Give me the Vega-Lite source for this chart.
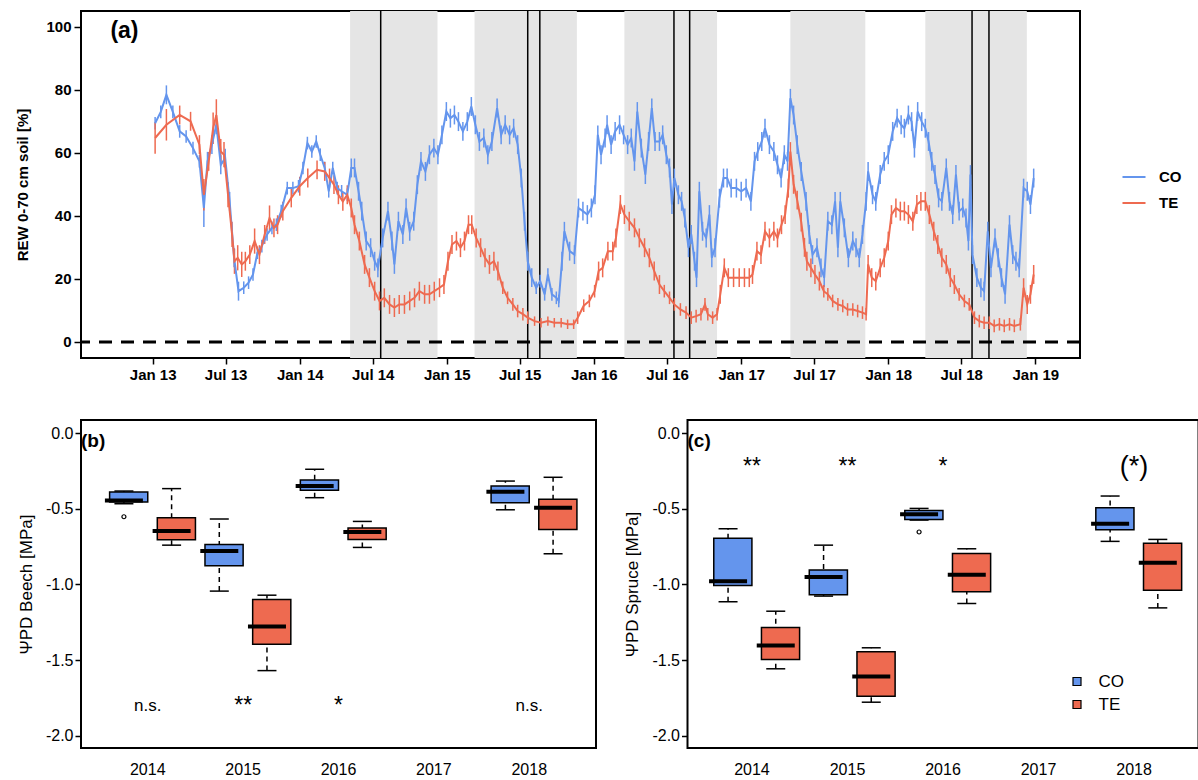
{
  "$schema": "https://vega.github.io/schema/vega-lite/v6.json",
  "background": "white",
  "padding": {"left": 14, "top": 9, "right": 0, "bottom": 0},
  "config": {
    "font": "Liberation Sans",
    "view": {"stroke": "black", "strokeWidth": 2},
    "axis": {"grid": false, "domain": false, "tickColor": "black", "tickWidth": 1.5, "labelColor": "black", "titleColor": "black"}
  },
  "datasets": {
    "seasons": [
      {"start": "2014-05-06", "end": "2014-12-09"},
      {"start": "2015-03-11", "end": "2015-11-20"},
      {"start": "2016-03-17", "end": "2016-11-02"},
      {"start": "2017-05-03", "end": "2017-11-05"},
      {"start": "2018-04-03", "end": "2018-12-11"}
    ],
    "campaigns": [
      {"d": "2014-07-21"}, {"d": "2015-07-21"}, {"d": "2015-08-20"}, {"d": "2016-07-18"},
      {"d": "2016-08-26"}, {"d": "2018-07-28"}, {"d": "2018-09-08"}
    ],
    "reference": [{"level": 0}],
    "rew": [
      {"d":"2013-01-07","s":"CO","v":69.4,"e":2},{"d":"2013-01-21","s":"CO","v":73,"e":2},{"d":"2013-02-04","s":"CO","v":78.4,"e":3},
      {"d":"2013-02-20","s":"CO","v":73,"e":2},{"d":"2013-03-09","s":"CO","v":66.8,"e":2},{"d":"2013-03-25","s":"CO","v":65.2,"e":2},
      {"d":"2013-04-11","s":"CO","v":61.5,"e":2},{"d":"2013-04-27","s":"CO","v":57.3,"e":2},{"d":"2013-05-08","s":"CO","v":42.5,"e":6},
      {"d":"2013-05-17","s":"CO","v":57.3,"e":3},{"d":"2013-05-28","s":"CO","v":62.6,"e":3},{"d":"2013-06-08","s":"CO","v":68.9,"e":3},
      {"d":"2013-06-19","s":"CO","v":56.2,"e":3},{"d":"2013-06-30","s":"CO","v":58.3,"e":3},{"d":"2013-07-11","s":"CO","v":44.6,"e":3},
      {"d":"2013-07-22","s":"CO","v":26.7,"e":3},{"d":"2013-08-02","s":"CO","v":16.1,"e":3},{"d":"2013-08-15","s":"CO","v":17.2,"e":2},
      {"d":"2013-08-27","s":"CO","v":18.8,"e":2},{"d":"2013-09-07","s":"CO","v":21.4,"e":2},{"d":"2013-09-18","s":"CO","v":28.3,"e":2},
      {"d":"2013-09-29","s":"CO","v":30.4,"e":2},{"d":"2013-10-12","s":"CO","v":34.1,"e":2},{"d":"2013-10-24","s":"CO","v":36.2,"e":2},
      {"d":"2013-11-04","s":"CO","v":37.2,"e":2},{"d":"2013-11-16","s":"CO","v":41.5,"e":2},{"d":"2013-12-01","s":"CO","v":48.8,"e":2},
      {"d":"2013-12-15","s":"CO","v":48.8,"e":2},{"d":"2013-12-29","s":"CO","v":49.4,"e":2},{"d":"2014-01-09","s":"CO","v":55.2,"e":2},
      {"d":"2014-01-20","s":"CO","v":63.1,"e":2},{"d":"2014-01-31","s":"CO","v":60.4,"e":2},{"d":"2014-02-11","s":"CO","v":63.6,"e":2},
      {"d":"2014-02-21","s":"CO","v":59.4,"e":2},{"d":"2014-03-04","s":"CO","v":55.2,"e":2},{"d":"2014-03-14","s":"CO","v":47.8,"e":2},
      {"d":"2014-03-24","s":"CO","v":55.2,"e":2},{"d":"2014-04-04","s":"CO","v":48.8,"e":2},{"d":"2014-04-15","s":"CO","v":47.8,"e":2},
      {"d":"2014-04-29","s":"CO","v":46.7,"e":2},{"d":"2014-05-09","s":"CO","v":55.2,"e":3},{"d":"2014-05-17","s":"CO","v":55.2,"e":3},
      {"d":"2014-05-27","s":"CO","v":47.8,"e":3},{"d":"2014-06-04","s":"CO","v":41.5,"e":3},{"d":"2014-06-15","s":"CO","v":32,"e":3},
      {"d":"2014-06-26","s":"CO","v":29.9,"e":3},{"d":"2014-07-06","s":"CO","v":25.6,"e":3},{"d":"2014-07-14","s":"CO","v":23.5,"e":3},
      {"d":"2014-07-26","s":"CO","v":33,"e":3},{"d":"2014-08-08","s":"CO","v":41.5,"e":3},{"d":"2014-08-18","s":"CO","v":32,"e":3},
      {"d":"2014-08-24","s":"CO","v":24.6,"e":3},{"d":"2014-09-03","s":"CO","v":38.3,"e":3},{"d":"2014-09-14","s":"CO","v":34.1,"e":3},
      {"d":"2014-09-22","s":"CO","v":42.5,"e":3},{"d":"2014-10-01","s":"CO","v":35.1,"e":3},{"d":"2014-10-11","s":"CO","v":38.3,"e":3},
      {"d":"2014-10-20","s":"CO","v":49.9,"e":3},{"d":"2014-10-29","s":"CO","v":57.3,"e":3},{"d":"2014-11-09","s":"CO","v":54.1,"e":3},
      {"d":"2014-11-19","s":"CO","v":59.4,"e":3},{"d":"2014-11-30","s":"CO","v":61.5,"e":3},{"d":"2014-12-10","s":"CO","v":59.4,"e":3},
      {"d":"2014-12-20","s":"CO","v":65.7,"e":3},{"d":"2014-12-31","s":"CO","v":73.1,"e":3},{"d":"2015-01-10","s":"CO","v":71,"e":3},
      {"d":"2015-01-20","s":"CO","v":72,"e":3},{"d":"2015-01-30","s":"CO","v":69.9,"e":3},{"d":"2015-02-10","s":"CO","v":66.8,"e":3},
      {"d":"2015-02-21","s":"CO","v":69.9,"e":3},{"d":"2015-03-03","s":"CO","v":74.7,"e":3},{"d":"2015-03-13","s":"CO","v":68.9,"e":3},
      {"d":"2015-03-23","s":"CO","v":63.6,"e":3},{"d":"2015-04-03","s":"CO","v":64.7,"e":3},{"d":"2015-04-13","s":"CO","v":59.4,"e":3},
      {"d":"2015-04-23","s":"CO","v":63.6,"e":3},{"d":"2015-05-06","s":"CO","v":74.2,"e":3},{"d":"2015-05-16","s":"CO","v":65.7,"e":3},
      {"d":"2015-05-26","s":"CO","v":68.9,"e":3},{"d":"2015-06-06","s":"CO","v":65.7,"e":3},{"d":"2015-06-16","s":"CO","v":67.8,"e":3},
      {"d":"2015-06-26","s":"CO","v":62.6,"e":3},{"d":"2015-07-05","s":"CO","v":52,"e":3},{"d":"2015-07-13","s":"CO","v":38.3,"e":3},
      {"d":"2015-07-21","s":"CO","v":25.6,"e":3},{"d":"2015-07-31","s":"CO","v":20.4,"e":3},{"d":"2015-08-11","s":"CO","v":17.2,"e":2},
      {"d":"2015-08-21","s":"CO","v":19.3,"e":2},{"d":"2015-09-01","s":"CO","v":15.1,"e":2},{"d":"2015-09-09","s":"CO","v":21.4,"e":2},
      {"d":"2015-09-19","s":"CO","v":15.1,"e":2},{"d":"2015-09-30","s":"CO","v":14,"e":2},{"d":"2015-10-06","s":"CO","v":13,"e":2},
      {"d":"2015-10-14","s":"CO","v":25.6,"e":3},{"d":"2015-10-20","s":"CO","v":35.1,"e":3},{"d":"2015-11-02","s":"CO","v":28.8,"e":3},
      {"d":"2015-11-14","s":"CO","v":27.7,"e":3},{"d":"2015-11-24","s":"CO","v":42.5,"e":3},{"d":"2015-12-05","s":"CO","v":41.5,"e":3},
      {"d":"2015-12-16","s":"CO","v":40.4,"e":3},{"d":"2015-12-26","s":"CO","v":42.5,"e":3},{"d":"2016-01-04","s":"CO","v":46.7,"e":3},
      {"d":"2016-01-11","s":"CO","v":65.7,"e":3},{"d":"2016-01-19","s":"CO","v":59.4,"e":3},{"d":"2016-01-29","s":"CO","v":64.7,"e":3},
      {"d":"2016-02-03","s":"CO","v":68.9,"e":3},{"d":"2016-02-13","s":"CO","v":62.6,"e":3},{"d":"2016-02-23","s":"CO","v":66.8,"e":3},
      {"d":"2016-03-05","s":"CO","v":68.9,"e":3},{"d":"2016-03-15","s":"CO","v":65.7,"e":3},{"d":"2016-03-25","s":"CO","v":62.6,"e":3},
      {"d":"2016-04-03","s":"CO","v":64.7,"e":3},{"d":"2016-04-11","s":"CO","v":57.3,"e":3},{"d":"2016-04-18","s":"CO","v":73.1,"e":3},
      {"d":"2016-04-28","s":"CO","v":61.5,"e":3},{"d":"2016-05-08","s":"CO","v":53.1,"e":3},{"d":"2016-05-16","s":"CO","v":63.6,"e":3},
      {"d":"2016-05-24","s":"CO","v":74.2,"e":3},{"d":"2016-06-01","s":"CO","v":63.6,"e":3},{"d":"2016-06-12","s":"CO","v":63.6,"e":3},
      {"d":"2016-06-20","s":"CO","v":65.7,"e":3},{"d":"2016-06-29","s":"CO","v":59.4,"e":3},{"d":"2016-07-07","s":"CO","v":55.2,"e":3},
      {"d":"2016-07-13","s":"CO","v":43.6,"e":3},{"d":"2016-07-19","s":"CO","v":52,"e":3},{"d":"2016-07-29","s":"CO","v":46.7,"e":3},
      {"d":"2016-08-06","s":"CO","v":44.6,"e":3},{"d":"2016-08-14","s":"CO","v":39.3,"e":3},{"d":"2016-08-23","s":"CO","v":29.9,"e":3},
      {"d":"2016-08-30","s":"CO","v":34.1,"e":3},{"d":"2016-09-07","s":"CO","v":25.6,"e":3},{"d":"2016-09-12","s":"CO","v":20.4,"e":3},
      {"d":"2016-09-19","s":"CO","v":47.8,"e":3},{"d":"2016-09-27","s":"CO","v":35.1,"e":3},{"d":"2016-10-06","s":"CO","v":33,"e":3},
      {"d":"2016-10-14","s":"CO","v":40.4,"e":3},{"d":"2016-10-20","s":"CO","v":26.7,"e":3},{"d":"2016-10-28","s":"CO","v":29.9,"e":3},
      {"d":"2016-11-08","s":"CO","v":45.6,"e":3},{"d":"2016-11-18","s":"CO","v":52,"e":3},{"d":"2016-11-27","s":"CO","v":52,"e":3},
      {"d":"2016-12-07","s":"CO","v":48.8,"e":3},{"d":"2016-12-20","s":"CO","v":48.8,"e":3},{"d":"2017-01-01","s":"CO","v":47.8,"e":3},
      {"d":"2017-01-13","s":"CO","v":48.8,"e":3},{"d":"2017-01-25","s":"CO","v":44.6,"e":3},{"d":"2017-02-03","s":"CO","v":57.3,"e":3},
      {"d":"2017-02-11","s":"CO","v":60.4,"e":3},{"d":"2017-02-21","s":"CO","v":63.6,"e":3},{"d":"2017-03-01","s":"CO","v":67.8,"e":3},
      {"d":"2017-03-12","s":"CO","v":62.6,"e":3},{"d":"2017-03-23","s":"CO","v":60.4,"e":3},{"d":"2017-04-01","s":"CO","v":56.2,"e":3},
      {"d":"2017-04-10","s":"CO","v":52,"e":3},{"d":"2017-04-18","s":"CO","v":59.4,"e":3},{"d":"2017-04-26","s":"CO","v":57.3,"e":3},
      {"d":"2017-05-03","s":"CO","v":77.3,"e":3},{"d":"2017-05-11","s":"CO","v":72,"e":3},{"d":"2017-05-20","s":"CO","v":62.6,"e":3},
      {"d":"2017-05-30","s":"CO","v":54.1,"e":3},{"d":"2017-06-11","s":"CO","v":44.6,"e":3},{"d":"2017-06-19","s":"CO","v":34.1,"e":3},
      {"d":"2017-06-27","s":"CO","v":27.7,"e":3},{"d":"2017-07-08","s":"CO","v":29.9,"e":3},{"d":"2017-07-18","s":"CO","v":23.5,"e":3},
      {"d":"2017-07-26","s":"CO","v":20.4,"e":3},{"d":"2017-08-04","s":"CO","v":38.3,"e":3},{"d":"2017-08-14","s":"CO","v":37.2,"e":3},
      {"d":"2017-08-22","s":"CO","v":44.6,"e":3},{"d":"2017-08-29","s":"CO","v":29.9,"e":3},{"d":"2017-09-04","s":"CO","v":44.6,"e":3},
      {"d":"2017-09-14","s":"CO","v":36.2,"e":3},{"d":"2017-09-24","s":"CO","v":26.7,"e":3},{"d":"2017-10-05","s":"CO","v":32,"e":3},
      {"d":"2017-10-13","s":"CO","v":29.9,"e":3},{"d":"2017-10-21","s":"CO","v":26.7,"e":3},{"d":"2017-10-29","s":"CO","v":34.1,"e":3},
      {"d":"2017-11-07","s":"CO","v":44.6,"e":3},{"d":"2017-11-12","s":"CO","v":54.1,"e":3},{"d":"2017-11-23","s":"CO","v":46.7,"e":3},
      {"d":"2017-12-01","s":"CO","v":44.6,"e":3},{"d":"2017-12-12","s":"CO","v":53.1,"e":3},{"d":"2017-12-22","s":"CO","v":57.3,"e":3},
      {"d":"2018-01-01","s":"CO","v":59.4,"e":3},{"d":"2018-01-12","s":"CO","v":66.8,"e":3},{"d":"2018-01-23","s":"CO","v":71,"e":3},
      {"d":"2018-02-02","s":"CO","v":68.9,"e":3},{"d":"2018-02-10","s":"CO","v":67.8,"e":3},{"d":"2018-02-20","s":"CO","v":72,"e":3},
      {"d":"2018-02-28","s":"CO","v":69.9,"e":3},{"d":"2018-03-07","s":"CO","v":61.5,"e":3},{"d":"2018-03-15","s":"CO","v":73.1,"e":3},
      {"d":"2018-03-25","s":"CO","v":69.9,"e":3},{"d":"2018-04-03","s":"CO","v":67.8,"e":3},{"d":"2018-04-11","s":"CO","v":63.6,"e":3},
      {"d":"2018-04-19","s":"CO","v":57.3,"e":3},{"d":"2018-04-27","s":"CO","v":53.1,"e":3},{"d":"2018-05-06","s":"CO","v":45.7,"e":3},
      {"d":"2018-05-14","s":"CO","v":44.6,"e":3},{"d":"2018-05-25","s":"CO","v":55.2,"e":3},{"d":"2018-06-02","s":"CO","v":44.6,"e":3},
      {"d":"2018-06-10","s":"CO","v":40.4,"e":3},{"d":"2018-06-18","s":"CO","v":53.1,"e":3},{"d":"2018-06-26","s":"CO","v":41.5,"e":3},
      {"d":"2018-07-05","s":"CO","v":42.5,"e":3},{"d":"2018-07-13","s":"CO","v":39.3,"e":3},{"d":"2018-07-19","s":"CO","v":32,"e":3},
      {"d":"2018-07-24","s":"CO","v":53.1,"e":3},{"d":"2018-07-29","s":"CO","v":27.7,"e":3},{"d":"2018-08-09","s":"CO","v":20.4,"e":3},
      {"d":"2018-08-19","s":"CO","v":17.2,"e":3},{"d":"2018-08-27","s":"CO","v":16.1,"e":3},{"d":"2018-09-05","s":"CO","v":35.1,"e":3},
      {"d":"2018-09-13","s":"CO","v":23.5,"e":3},{"d":"2018-09-23","s":"CO","v":33,"e":3},{"d":"2018-10-01","s":"CO","v":26.7,"e":3},
      {"d":"2018-10-09","s":"CO","v":20.4,"e":3},{"d":"2018-10-18","s":"CO","v":15.1,"e":3},{"d":"2018-10-29","s":"CO","v":37.2,"e":3},
      {"d":"2018-11-06","s":"CO","v":27.7,"e":3},{"d":"2018-11-14","s":"CO","v":25.6,"e":3},{"d":"2018-11-22","s":"CO","v":23.5,"e":3},
      {"d":"2018-12-03","s":"CO","v":48.8,"e":3},{"d":"2018-12-12","s":"CO","v":47.8,"e":3},{"d":"2018-12-20","s":"CO","v":43.6,"e":3},
      {"d":"2018-12-28","s":"CO","v":52,"e":3},

      {"d":"2013-01-07","s":"TE","v":64.7,"e":5},{"d":"2013-02-04","s":"TE","v":68.9,"e":5},{"d":"2013-03-09","s":"TE","v":72,"e":3},
      {"d":"2013-04-05","s":"TE","v":70,"e":3},{"d":"2013-04-27","s":"TE","v":62.6,"e":3},{"d":"2013-05-08","s":"TE","v":46.7,"e":5},
      {"d":"2013-05-20","s":"TE","v":57.3,"e":3},{"d":"2013-05-31","s":"TE","v":67.8,"e":5},{"d":"2013-06-08","s":"TE","v":72,"e":5},
      {"d":"2013-06-19","s":"TE","v":60.4,"e":4},{"d":"2013-06-27","s":"TE","v":59.4,"e":4},{"d":"2013-07-07","s":"TE","v":46.7,"e":4},
      {"d":"2013-07-17","s":"TE","v":34.1,"e":4},{"d":"2013-07-23","s":"TE","v":25.6,"e":4},{"d":"2013-07-31","s":"TE","v":26.7,"e":4},
      {"d":"2013-08-10","s":"TE","v":24.6,"e":4},{"d":"2013-08-19","s":"TE","v":25.6,"e":3},{"d":"2013-08-30","s":"TE","v":27.7,"e":3},
      {"d":"2013-09-11","s":"TE","v":32,"e":4},{"d":"2013-09-23","s":"TE","v":27.7,"e":3},{"d":"2013-10-06","s":"TE","v":34.1,"e":3},
      {"d":"2013-10-18","s":"TE","v":39.3,"e":4},{"d":"2013-10-29","s":"TE","v":36.2,"e":3},{"d":"2013-11-07","s":"TE","v":37.2,"e":3},
      {"d":"2013-11-20","s":"TE","v":41.5,"e":3},{"d":"2013-12-11","s":"TE","v":45.7,"e":3},{"d":"2014-01-01","s":"TE","v":49.4,"e":3},
      {"d":"2014-01-21","s":"TE","v":52,"e":3},{"d":"2014-02-13","s":"TE","v":54.6,"e":3},{"d":"2014-03-04","s":"TE","v":54.1,"e":3},
      {"d":"2014-03-16","s":"TE","v":52,"e":3},{"d":"2014-03-27","s":"TE","v":49.9,"e":3},{"d":"2014-04-07","s":"TE","v":46.7,"e":3},
      {"d":"2014-04-18","s":"TE","v":44.6,"e":3},{"d":"2014-04-29","s":"TE","v":46.7,"e":3},{"d":"2014-05-09","s":"TE","v":42.5,"e":3},
      {"d":"2014-05-17","s":"TE","v":37.2,"e":3},{"d":"2014-05-29","s":"TE","v":32,"e":3},{"d":"2014-06-11","s":"TE","v":24.6,"e":3},
      {"d":"2014-06-23","s":"TE","v":20.4,"e":3},{"d":"2014-07-06","s":"TE","v":16.1,"e":3},{"d":"2014-07-18","s":"TE","v":13,"e":3},
      {"d":"2014-07-30","s":"TE","v":14,"e":3},{"d":"2014-08-12","s":"TE","v":11.9,"e":3},{"d":"2014-08-24","s":"TE","v":10.9,"e":3},
      {"d":"2014-09-05","s":"TE","v":11.9,"e":3},{"d":"2014-09-18","s":"TE","v":11.9,"e":3},{"d":"2014-10-01","s":"TE","v":13,"e":3},
      {"d":"2014-10-13","s":"TE","v":14,"e":3},{"d":"2014-10-25","s":"TE","v":16.1,"e":3},{"d":"2014-11-07","s":"TE","v":15.1,"e":3},
      {"d":"2014-11-19","s":"TE","v":15.1,"e":3},{"d":"2014-12-01","s":"TE","v":16.1,"e":3},{"d":"2014-12-14","s":"TE","v":17.2,"e":3},
      {"d":"2014-12-25","s":"TE","v":18.2,"e":3},{"d":"2015-01-04","s":"TE","v":25.6,"e":3},{"d":"2015-01-14","s":"TE","v":30.9,"e":3},
      {"d":"2015-01-25","s":"TE","v":32,"e":3},{"d":"2015-02-04","s":"TE","v":29.9,"e":3},{"d":"2015-02-14","s":"TE","v":32,"e":3},
      {"d":"2015-02-24","s":"TE","v":37.2,"e":3},{"d":"2015-03-04","s":"TE","v":37.2,"e":3},{"d":"2015-03-15","s":"TE","v":33,"e":3},
      {"d":"2015-03-26","s":"TE","v":29.9,"e":3},{"d":"2015-04-06","s":"TE","v":26.7,"e":3},{"d":"2015-04-17","s":"TE","v":24.6,"e":3},
      {"d":"2015-04-28","s":"TE","v":25.6,"e":3},{"d":"2015-05-08","s":"TE","v":22.5,"e":3},{"d":"2015-05-20","s":"TE","v":17.2,"e":2},
      {"d":"2015-06-01","s":"TE","v":14,"e":2},{"d":"2015-06-14","s":"TE","v":11.9,"e":2},{"d":"2015-06-26","s":"TE","v":9.8,"e":2},
      {"d":"2015-07-09","s":"TE","v":8.8,"e":2},{"d":"2015-07-21","s":"TE","v":7.7,"e":2},{"d":"2015-08-07","s":"TE","v":6.6,"e":1.5},
      {"d":"2015-08-23","s":"TE","v":6.1,"e":1.5},{"d":"2015-09-09","s":"TE","v":6.6,"e":1.5},{"d":"2015-09-25","s":"TE","v":6.1,"e":1.5},
      {"d":"2015-10-12","s":"TE","v":6.1,"e":1.5},{"d":"2015-10-28","s":"TE","v":5.6,"e":1.5},{"d":"2015-11-12","s":"TE","v":5.6,"e":1.5},
      {"d":"2015-11-22","s":"TE","v":7.7,"e":2},{"d":"2015-12-07","s":"TE","v":11.5,"e":2},{"d":"2015-12-21","s":"TE","v":13,"e":2},
      {"d":"2016-01-03","s":"TE","v":16.1,"e":2},{"d":"2016-01-13","s":"TE","v":22.5,"e":3},{"d":"2016-01-23","s":"TE","v":23.5,"e":3},
      {"d":"2016-02-05","s":"TE","v":28.8,"e":3},{"d":"2016-02-17","s":"TE","v":28.8,"e":3},{"d":"2016-02-25","s":"TE","v":33,"e":3},
      {"d":"2016-03-07","s":"TE","v":43.6,"e":3},{"d":"2016-03-17","s":"TE","v":40.4,"e":3},{"d":"2016-03-29","s":"TE","v":38.3,"e":3},
      {"d":"2016-04-11","s":"TE","v":36.2,"e":3},{"d":"2016-04-23","s":"TE","v":33,"e":3},{"d":"2016-05-06","s":"TE","v":29.9,"e":3},
      {"d":"2016-05-18","s":"TE","v":26.7,"e":3},{"d":"2016-05-30","s":"TE","v":22.5,"e":3},{"d":"2016-06-12","s":"TE","v":18.2,"e":3},
      {"d":"2016-06-24","s":"TE","v":16.1,"e":2},{"d":"2016-07-07","s":"TE","v":14,"e":2},{"d":"2016-07-19","s":"TE","v":11.9,"e":2},
      {"d":"2016-08-03","s":"TE","v":10.3,"e":2},{"d":"2016-08-17","s":"TE","v":9.3,"e":2},{"d":"2016-08-30","s":"TE","v":7.7,"e":2},
      {"d":"2016-09-11","s":"TE","v":8.2,"e":2},{"d":"2016-09-23","s":"TE","v":8.8,"e":2},{"d":"2016-10-03","s":"TE","v":11.9,"e":2},
      {"d":"2016-10-10","s":"TE","v":8.8,"e":2},{"d":"2016-10-22","s":"TE","v":7.7,"e":2},{"d":"2016-11-02","s":"TE","v":8.8,"e":2},
      {"d":"2016-11-10","s":"TE","v":15.1,"e":3},{"d":"2016-11-20","s":"TE","v":23.5,"e":3},{"d":"2016-11-30","s":"TE","v":20.4,"e":3},
      {"d":"2016-12-13","s":"TE","v":20.4,"e":3},{"d":"2016-12-27","s":"TE","v":20.4,"e":3},{"d":"2017-01-09","s":"TE","v":20.4,"e":3},
      {"d":"2017-01-21","s":"TE","v":20.4,"e":3},{"d":"2017-01-29","s":"TE","v":21.4,"e":3},{"d":"2017-02-09","s":"TE","v":28.8,"e":3},
      {"d":"2017-02-19","s":"TE","v":27.7,"e":3},{"d":"2017-03-01","s":"TE","v":35.1,"e":3},{"d":"2017-03-12","s":"TE","v":33,"e":3},
      {"d":"2017-03-23","s":"TE","v":35.1,"e":3},{"d":"2017-04-01","s":"TE","v":33,"e":3},{"d":"2017-04-11","s":"TE","v":37.2,"e":3},
      {"d":"2017-04-20","s":"TE","v":40.4,"e":3},{"d":"2017-04-28","s":"TE","v":48.8,"e":3},{"d":"2017-05-03","s":"TE","v":60.4,"e":3},
      {"d":"2017-05-11","s":"TE","v":50,"e":3},{"d":"2017-05-20","s":"TE","v":45,"e":3},{"d":"2017-05-30","s":"TE","v":38,"e":3},
      {"d":"2017-06-07","s":"TE","v":30,"e":3},{"d":"2017-06-13","s":"TE","v":25.6,"e":3},{"d":"2017-06-23","s":"TE","v":23.5,"e":3},
      {"d":"2017-07-03","s":"TE","v":21.4,"e":3},{"d":"2017-07-14","s":"TE","v":19.3,"e":3},{"d":"2017-07-25","s":"TE","v":16.1,"e":2},
      {"d":"2017-08-04","s":"TE","v":15.1,"e":2},{"d":"2017-08-16","s":"TE","v":13,"e":2},{"d":"2017-08-29","s":"TE","v":11.9,"e":2},
      {"d":"2017-09-10","s":"TE","v":11.4,"e":2},{"d":"2017-09-22","s":"TE","v":10.3,"e":2},{"d":"2017-10-05","s":"TE","v":10.3,"e":2},
      {"d":"2017-10-17","s":"TE","v":9.8,"e":2},{"d":"2017-10-29","s":"TE","v":9.3,"e":2},{"d":"2017-11-07","s":"TE","v":8.8,"e":2},
      {"d":"2017-11-12","s":"TE","v":24.6,"e":3},{"d":"2017-11-21","s":"TE","v":20.4,"e":3},{"d":"2017-12-01","s":"TE","v":19.3,"e":3},
      {"d":"2017-12-12","s":"TE","v":23.5,"e":3},{"d":"2017-12-22","s":"TE","v":26.7,"e":3},{"d":"2018-01-01","s":"TE","v":32,"e":3},
      {"d":"2018-01-09","s":"TE","v":40.4,"e":3},{"d":"2018-01-20","s":"TE","v":42.5,"e":3},{"d":"2018-01-31","s":"TE","v":41.5,"e":3},
      {"d":"2018-02-10","s":"TE","v":41.5,"e":3},{"d":"2018-02-20","s":"TE","v":40.4,"e":3},{"d":"2018-03-03","s":"TE","v":38.3,"e":3},
      {"d":"2018-03-13","s":"TE","v":43.6,"e":3},{"d":"2018-03-23","s":"TE","v":44.6,"e":3},{"d":"2018-04-03","s":"TE","v":44.6,"e":3},
      {"d":"2018-04-13","s":"TE","v":40.4,"e":3},{"d":"2018-04-24","s":"TE","v":35.1,"e":3},{"d":"2018-05-04","s":"TE","v":30.9,"e":3},
      {"d":"2018-05-14","s":"TE","v":26.7,"e":3},{"d":"2018-05-25","s":"TE","v":24.6,"e":3},{"d":"2018-06-04","s":"TE","v":20.4,"e":3},
      {"d":"2018-06-14","s":"TE","v":18.2,"e":3},{"d":"2018-06-26","s":"TE","v":15.1,"e":2},{"d":"2018-07-09","s":"TE","v":13,"e":2},
      {"d":"2018-07-21","s":"TE","v":11.9,"e":2},{"d":"2018-08-03","s":"TE","v":7.7,"e":2},{"d":"2018-08-15","s":"TE","v":6.6,"e":2},
      {"d":"2018-08-27","s":"TE","v":6.1,"e":2},{"d":"2018-09-09","s":"TE","v":6.1,"e":2},{"d":"2018-09-21","s":"TE","v":5.1,"e":2},
      {"d":"2018-10-04","s":"TE","v":5.6,"e":2},{"d":"2018-10-16","s":"TE","v":5.1,"e":2},{"d":"2018-10-29","s":"TE","v":5.6,"e":2},
      {"d":"2018-11-10","s":"TE","v":5.1,"e":2},{"d":"2018-11-25","s":"TE","v":5.6,"e":2},{"d":"2018-12-03","s":"TE","v":17.2,"e":3},
      {"d":"2018-12-12","s":"TE","v":11.9,"e":3},{"d":"2018-12-20","s":"TE","v":15.1,"e":3},{"d":"2018-12-28","s":"TE","v":21.4,"e":3}
    ],
    "beech": [
      {"yr":"2014","g":"CO","lo":-0.466,"q1":-0.455,"med":-0.444,"q3":-0.389,"hi":-0.382},
      {"yr":"2014","g":"TE","lo":-0.740,"q1":-0.704,"med":-0.647,"q3":-0.559,"hi":-0.366},
      {"yr":"2015","g":"CO","lo":-1.044,"q1":-0.876,"med":-0.779,"q3":-0.735,"hi":-0.567},
      {"yr":"2015","g":"TE","lo":-1.570,"q1":-1.395,"med":-1.278,"q3":-1.099,"hi":-1.071},
      {"yr":"2016","g":"CO","lo":-0.426,"q1":-0.377,"med":-0.349,"q3":-0.309,"hi":-0.238},
      {"yr":"2016","g":"TE","lo":-0.755,"q1":-0.702,"med":-0.653,"q3":-0.627,"hi":-0.583},
      {"yr":"2018","g":"CO","lo":-0.506,"q1":-0.459,"med":-0.386,"q3":-0.349,"hi":-0.316},
      {"yr":"2018","g":"TE","lo":-0.797,"q1":-0.636,"med":-0.492,"q3":-0.437,"hi":-0.291}
    ],
    "beech_out": [{"yr":"2014","g":"CO","val":-0.552}],
    "beech_sig": [{"yr":"2014","lab":"n.s."},{"yr":"2015","lab":"**"},{"yr":"2016","lab":"*"},{"yr":"2018","lab":"n.s."}],
    "spruce": [
      {"yr":"2014","g":"CO","lo":-1.115,"q1":-1.007,"med":-0.978,"q3":-0.695,"hi":-0.631},
      {"yr":"2014","g":"TE","lo":-1.558,"q1":-1.497,"med":-1.404,"q3":-1.285,"hi":-1.177},
      {"yr":"2015","g":"CO","lo":-1.077,"q1":-1.068,"med":-0.951,"q3":-0.905,"hi":-0.740},
      {"yr":"2015","g":"TE","lo":-1.779,"q1":-1.740,"med":-1.609,"q3":-1.446,"hi":-1.419},
      {"yr":"2016","g":"CO","lo":-0.574,"q1":-0.570,"med":-0.536,"q3":-0.510,"hi":-0.497},
      {"yr":"2016","g":"TE","lo":-1.126,"q1":-1.049,"med":-0.936,"q3":-0.795,"hi":-0.764},
      {"yr":"2018","g":"CO","lo":-0.715,"q1":-0.638,"med":-0.598,"q3":-0.492,"hi":-0.415},
      {"yr":"2018","g":"TE","lo":-1.155,"q1":-1.038,"med":-0.857,"q3":-0.728,"hi":-0.702}
    ],
    "spruce_out": [{"yr":"2016","g":"CO","val":-0.653}],
    "spruce_sig": [{"yr":"2014","lab":"**"},{"yr":"2015","lab":"**"},{"yr":"2016","lab":"*"},{"yr":"2018","lab":"(*)"}],
    "panel_a": [{"lab": "(a)"}],
    "panel_b": [{"lab": "(b)"}],
    "panel_c": [{"lab": "(c)"}]
  },
  "spacing": 36,
  "resolve": {"scale": {"color": "independent"}, "legend": {"color": "independent"}},
  "vconcat": [
    {
      "width": 999,
      "height": 347,
      "layer": [
        {
          "data": {"name": "seasons"},
          "mark": {"type": "rect", "color": "#E5E5E5"},
          "encoding": {
            "x": {"field": "start", "type": "temporal",
                  "scale": {"domain": [{"year": 2012, "month": 7, "date": 7}, {"year": 2019, "month": 4, "date": 22}]},
                  "axis": {"title": null, "format": "%b %y", "labelFontSize": 15, "labelFontWeight": "bold", "tickSize": 6, "labelPadding": 3, "labelFlush": false, "labelOverlap": false,
                           "values": [{"year":2013,"month":1,"date":1},{"year":2013,"month":7,"date":1},{"year":2014,"month":1,"date":1},{"year":2014,"month":7,"date":1},
                                      {"year":2015,"month":1,"date":1},{"year":2015,"month":7,"date":1},{"year":2016,"month":1,"date":1},{"year":2016,"month":7,"date":1},
                                      {"year":2017,"month":1,"date":1},{"year":2017,"month":7,"date":1},{"year":2018,"month":1,"date":1},{"year":2018,"month":7,"date":1},
                                      {"year":2019,"month":1,"date":1}]}},
            "x2": {"field": "end"}
          }
        },
        {
          "data": {"name": "campaigns"},
          "mark": {"type": "rule", "color": "black", "strokeWidth": 1.5},
          "encoding": {"x": {"field": "d", "type": "temporal", "axis": {"title": null}}}
        },
        {
          "data": {"name": "reference"},
          "mark": {"type": "rule", "color": "black", "strokeWidth": 3, "strokeDash": [13, 9]},
          "encoding": {"y": {"field": "level", "type": "quantitative", "axis": {"title": "REW 0-70 cm soil [%]"}}}
        },
        {
          "data": {"name": "rew"},
          "mark": {"type": "errorbar", "thickness": 1.5},
          "encoding": {
            "x": {"field": "d", "type": "temporal", "axis": {"title": null}},
            "y": {"field": "v", "type": "quantitative",
                  "scale": {"domain": [-5.1, 105], "nice": false, "zero": false},
                  "axis": {"title": "REW 0-70 cm soil [%]", "values": [0, 20, 40, 60, 80, 100], "labelFontSize": 15, "labelFontWeight": "bold", "tickSize": 7, "labelPadding": 3, "titleFontSize": 15, "titleFontWeight": "bold", "titlePadding": 15}},
            "yError": {"field": "e"},
            "color": {"field": "s", "type": "nominal", "scale": {"domain": ["CO", "TE"], "range": ["#6495ED", "#EE6A50"]},
                      "legend": {"title": null, "orient": "none", "legendX": 1040, "legendY": 153, "padding": 0, "symbolType": "stroke", "symbolStrokeWidth": 2, "symbolSize": 530, "labelFontSize": 15, "labelFontWeight": "bold", "labelOffset": 12, "rowPadding": 5, "labelColor": "black"}}
          }
        },
        {
          "data": {"name": "rew"},
          "mark": {"type": "line", "strokeWidth": 2},
          "encoding": {
            "x": {"field": "d", "type": "temporal", "axis": {"title": null}},
            "y": {"field": "v", "type": "quantitative", "axis": {"title": "REW 0-70 cm soil [%]"}},
            "color": {"field": "s", "type": "nominal"}
          }
        },
        {
          "data": {"name": "panel_a"},
          "mark": {"type": "text", "align": "left", "baseline": "middle", "fontSize": 23, "fontWeight": "bold", "color": "black"},
          "encoding": {
            "x": {"datum": {"year": 2012, "month": 9, "date": 18}, "type": "temporal"},
            "y": {"datum": 98.6, "type": "quantitative"},
            "text": {"field": "lab"}
          }
        }
      ]
    },
    {
      "spacing": 25.5,
      "resolve": {"legend": {"color": "independent"}},
      "hconcat": [
        {
          "width": 515,
          "height": 328,
          "resolve": {"scale": {"x": "independent"}},
          "layer": [
            {
              "layer": [
                {
                  "data": {"name": "beech"},
                  "mark": {"type": "rule", "color": "black", "strokeWidth": 1.5, "strokeDash": [5, 4]},
                  "encoding": {
                    "x": {"field": "yr", "type": "nominal", "scale": {"domain": ["2014", "2015", "2016", "2017", "2018"], "paddingInner": 0, "paddingOuter": 0.2},
                          "axis": {"title": null, "labelAngle": 0, "ticks": false, "labelFontSize": 16, "labelPadding": 13}},
                    "xOffset": {"field": "g", "type": "nominal", "scale": {"domain": ["CO", "TE"], "paddingInner": 0, "paddingOuter": 0}},
                    "y": {"field": "lo", "type": "quantitative", "scale": {"domain": [-2.082, 0.088], "nice": false, "zero": false},
                          "axis": {"title": "ΨPD Beech [MPa]", "values": [0, -0.5, -1, -1.5, -2], "labelExpr": "(datum.value < 0 ? '-' : '') + format(abs(datum.value), '.1f')",
                                   "labelFontSize": 16, "tickSize": 6, "labelPadding": 2, "titleFontSize": 17, "titleFontWeight": "normal", "titlePadding": 10}},
                    "y2": {"field": "hi"}
                  }
                },
                {
                  "data": {"name": "beech"},
                  "mark": {"type": "tick", "color": "black", "opacity": 1, "thickness": 1.5, "size": 19},
                  "encoding": {"x": {"field": "yr", "type": "nominal"}, "xOffset": {"field": "g", "type": "nominal"}, "y": {"field": "lo", "type": "quantitative"}}
                },
                {
                  "data": {"name": "beech"},
                  "mark": {"type": "tick", "color": "black", "opacity": 1, "thickness": 1.5, "size": 19},
                  "encoding": {"x": {"field": "yr", "type": "nominal"}, "xOffset": {"field": "g", "type": "nominal"}, "y": {"field": "hi", "type": "quantitative"}}
                },
                {
                  "data": {"name": "beech"},
                  "mark": {"type": "bar", "stroke": "black", "strokeWidth": 1.5, "opacity": 1, "width": {"band": 0.8}},
                  "encoding": {
                    "x": {"field": "yr", "type": "nominal"}, "xOffset": {"field": "g", "type": "nominal"},
                    "y": {"field": "q1", "type": "quantitative"}, "y2": {"field": "q3"},
                    "color": {"field": "g", "type": "nominal", "scale": {"domain": ["CO", "TE"], "range": ["#6495ED", "#EE6A50"]}, "legend": null}
                  }
                },
                {
                  "data": {"name": "beech"},
                  "mark": {"type": "tick", "color": "black", "opacity": 1, "thickness": 4, "size": 38},
                  "encoding": {"x": {"field": "yr", "type": "nominal"}, "xOffset": {"field": "g", "type": "nominal"}, "y": {"field": "med", "type": "quantitative"}}
                },
                {
                  "data": {"name": "beech_out"},
                  "mark": {"type": "point", "shape": "circle", "filled": false, "color": "black", "opacity": 1, "size": 16, "strokeWidth": 1.2},
                  "encoding": {"x": {"field": "yr", "type": "nominal"}, "xOffset": {"field": "g", "type": "nominal"}, "y": {"field": "val", "type": "quantitative"}}
                },
                {
                  "data": {"name": "beech_sig"},
                  "mark": {"type": "text", "color": "black", "baseline": "middle", "align": "center"},
                  "encoding": {
                    "x": {"field": "yr", "type": "nominal"},
                    "y": {"datum": -1.806},
                    "text": {"field": "lab"},
                    "size": {"condition": {"test": "datum.lab === 'n.s.'", "value": 17}, "value": 23}
                  }
                }
              ]
            },
            {
              "data": {"name": "panel_b"},
              "mark": {"type": "text", "align": "left", "baseline": "middle", "fontSize": 19, "fontWeight": "bold", "color": "black"},
              "encoding": {
                "x": {"datum": 0, "type": "quantitative", "scale": {"domain": [0, 1]}, "axis": null},
                "y": {"datum": -0.051, "type": "quantitative"},
                "text": {"field": "lab"}
              }
            }
          ]
        },
        {
          "width": 511,
          "height": 328,
          "resolve": {"scale": {"x": "independent"}},
          "layer": [
            {
              "layer": [
                {
                  "data": {"name": "spruce"},
                  "mark": {"type": "rule", "color": "black", "strokeWidth": 1.5, "strokeDash": [5, 4]},
                  "encoding": {
                    "x": {"field": "yr", "type": "nominal", "scale": {"domain": ["2014", "2015", "2016", "2017", "2018"], "paddingInner": 0, "paddingOuter": 0.175},
                          "axis": {"title": null, "labelAngle": 0, "ticks": false, "labelFontSize": 16, "labelPadding": 13}},
                    "xOffset": {"field": "g", "type": "nominal", "scale": {"domain": ["CO", "TE"], "paddingInner": 0, "paddingOuter": 0}},
                    "y": {"field": "lo", "type": "quantitative", "scale": {"domain": [-2.082, 0.088], "nice": false, "zero": false},
                          "axis": {"title": "ΨPD Spruce [MPa]", "values": [0, -0.5, -1, -1.5, -2], "labelExpr": "(datum.value < 0 ? '-' : '') + format(abs(datum.value), '.1f')",
                                   "labelFontSize": 16, "tickSize": 6, "labelPadding": 2, "titleFontSize": 17, "titleFontWeight": "normal", "titlePadding": 10}},
                    "y2": {"field": "hi"}
                  }
                },
                {
                  "data": {"name": "spruce"},
                  "mark": {"type": "tick", "color": "black", "opacity": 1, "thickness": 1.5, "size": 19},
                  "encoding": {"x": {"field": "yr", "type": "nominal"}, "xOffset": {"field": "g", "type": "nominal"}, "y": {"field": "lo", "type": "quantitative"}}
                },
                {
                  "data": {"name": "spruce"},
                  "mark": {"type": "tick", "color": "black", "opacity": 1, "thickness": 1.5, "size": 19},
                  "encoding": {"x": {"field": "yr", "type": "nominal"}, "xOffset": {"field": "g", "type": "nominal"}, "y": {"field": "hi", "type": "quantitative"}}
                },
                {
                  "data": {"name": "spruce"},
                  "mark": {"type": "bar", "stroke": "black", "strokeWidth": 1.5, "opacity": 1, "width": {"band": 0.8}},
                  "encoding": {
                    "x": {"field": "yr", "type": "nominal"}, "xOffset": {"field": "g", "type": "nominal"},
                    "y": {"field": "q1", "type": "quantitative"}, "y2": {"field": "q3"},
                    "color": {"field": "g", "type": "nominal", "scale": {"domain": ["CO", "TE"], "range": ["#6495ED", "#EE6A50"]},
                              "legend": {"title": null, "orient": "none", "legendX": 381, "legendY": 253, "padding": 0, "symbolType": "square", "symbolSize": 64, "symbolStrokeColor": "black", "symbolStrokeWidth": 1.2, "symbolOpacity": 1, "labelFontSize": 17, "labelOffset": 13, "rowPadding": 5, "labelColor": "black"}}
                  }
                },
                {
                  "data": {"name": "spruce"},
                  "mark": {"type": "tick", "color": "black", "opacity": 1, "thickness": 4, "size": 38},
                  "encoding": {"x": {"field": "yr", "type": "nominal"}, "xOffset": {"field": "g", "type": "nominal"}, "y": {"field": "med", "type": "quantitative"}}
                },
                {
                  "data": {"name": "spruce_out"},
                  "mark": {"type": "point", "shape": "circle", "filled": false, "color": "black", "opacity": 1, "size": 16, "strokeWidth": 1.2},
                  "encoding": {"x": {"field": "yr", "type": "nominal"}, "xOffset": {"field": "g", "type": "nominal"}, "y": {"field": "val", "type": "quantitative"}}
                },
                {
                  "data": {"name": "spruce_sig"},
                  "mark": {"type": "text", "color": "black", "baseline": "middle", "align": "center"},
                  "encoding": {
                    "x": {"field": "yr", "type": "nominal"},
                    "y": {"datum": -0.22},
                    "text": {"field": "lab"},
                    "size": {"condition": {"test": "datum.lab === '(*)'", "value": 27}, "value": 23}
                  }
                }
              ]
            },
            {
              "data": {"name": "panel_c"},
              "mark": {"type": "text", "align": "left", "baseline": "middle", "fontSize": 19, "fontWeight": "bold", "color": "black"},
              "encoding": {
                "x": {"datum": 0, "type": "quantitative", "scale": {"domain": [0, 1]}, "axis": null},
                "y": {"datum": -0.051, "type": "quantitative"},
                "text": {"field": "lab"}
              }
            }
          ]
        }
      ]
    }
  ]
}
